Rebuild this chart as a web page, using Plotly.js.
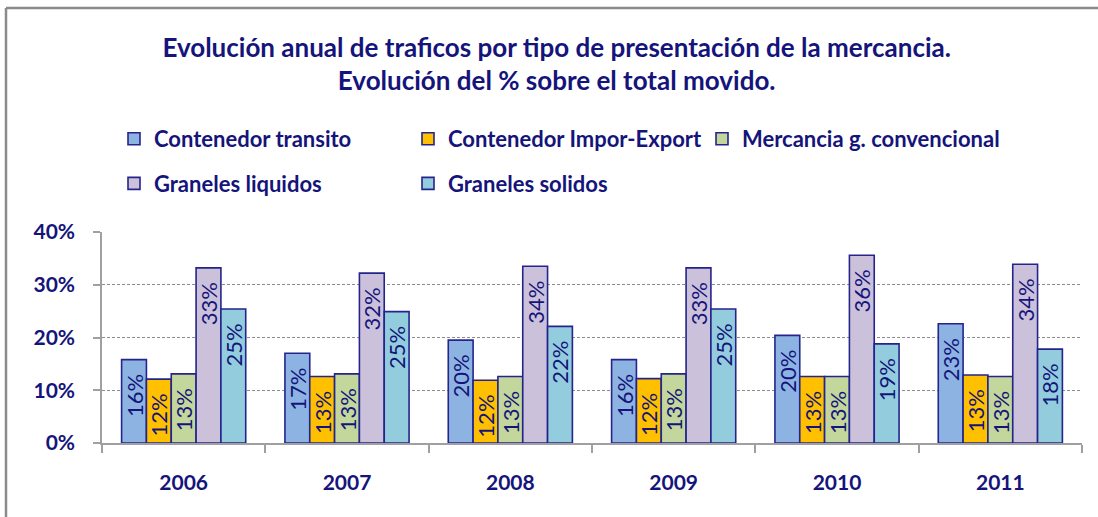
<!DOCTYPE html>
<html>
<head>
<meta charset="utf-8">
<script src="https://cdn.plot.ly/plotly-3.0.1.min.js"></script>
<style>
  html, body { margin: 0; padding: 0; background: #fff; }
  #chart { width: 1098px; height: 517px; }
</style>
</head>
<body>
<div id="chart"></div>
<script>
const years = ['2006', '2007', '2008', '2009', '2010', '2011'];
const seriesNames = ['Contenedor transito', 'Contenedor Impor-Export', 'Mercancia g. convencional', 'Graneles liquidos', 'Graneles solidos'];
const contenedorTransito = [0.158, 0.170, 0.195, 0.158, 0.204, 0.226];
const contenedorImporExport = [0.121, 0.126, 0.119, 0.122, 0.126, 0.129];
const mercanciaConvencional = [0.131, 0.131, 0.126, 0.131, 0.126, 0.126];
const granelesLiquidos = [0.332, 0.322, 0.335, 0.332, 0.356, 0.339];
const granelesSolidos = [0.254, 0.249, 0.221, 0.254, 0.188, 0.178];

const navy = '#14147a';
const fontFam = 'Lato, "Open Sans", sans-serif';
const colors = ['#8db3e2', '#ffc000', '#c3d69b', '#ccc1da', '#93cddd'];
const values = [contenedorTransito, contenedorImporExport, mercanciaConvencional, granelesLiquidos, granelesSolidos];
// legend columns: col1 = transito + liquidos, col2 = impor-export + solidos, col3 = mercancia
const legendIds = ['legend', 'legend2', 'legend3', 'legend', 'legend2'];

const traces = values.map((v, i) => ({
  type: 'bar',
  name: seriesNames[i],
  x: years,
  y: v,
  legend: legendIds[i],
  legendgroup: 'g' + i,
  marker: { color: colors[i], line: { color: '#24248c', width: 1.6 } },
  texttemplate: '%{y:.0%}\u00a0\u00a0',
  textposition: 'inside',
  insidetextanchor: 'end',
  textangle: -90,
  constraintext: 'none',
  textfont: { family: fontFam, size: 22, color: navy },
  hoverinfo: 'x+y+name'
}));

const px2x = p => (p - 102) / 980;
const py2y = p => (443 - p) / 211;

const legendCommon = {
  orientation: 'v',
  xref: 'paper', yref: 'paper',
  xanchor: 'left', yanchor: 'middle',
  tracegroupgap: 13,
  font: { family: fontFam, size: 22, color: navy, weight: 'bold' },
  bgcolor: 'rgba(0,0,0,0)',
  traceorder: 'grouped'
};

const layout = {
  width: 1098,
  height: 517,
  paper_bgcolor: '#ffffff',
  plot_bgcolor: '#ffffff',
  margin: { l: 102, r: 16, t: 232, b: 74 },
  title: {
    text: 'Evolución anual de traficos por tipo de presentación de la mercancia.<br>Evolución del % sobre el total movido.',
    font: { family: fontFam, size: 26, color: navy, weight: 'bold' },
    xref: 'container', yref: 'container',
    x: 0.507, xanchor: 'center',
    y: 1 - 56.5 / 517, yanchor: 'top'
  },
  barmode: 'group',
  bargap: 0.24,
  bargroupgap: 0,
  showlegend: true,
  legend: Object.assign({}, legendCommon, { x: px2x(114), y: py2y(161.5) }),
  legend2: Object.assign({}, legendCommon, { x: px2x(408), y: py2y(161.5) }),
  legend3: Object.assign({}, legendCommon, { x: px2x(702), y: py2y(139) }),
  xaxis: {
    type: 'category',
    showline: true, linecolor: '#a0a0a0', linewidth: 1.5,
    ticks: 'outside', tickson: 'boundaries', ticklen: 8, tickcolor: '#a0a0a0', tickwidth: 1.5,
    ticklabelstandoff: 20,
    tickfont: { family: fontFam, size: 21, color: navy, weight: 'bold' },
    showgrid: false
  },
  yaxis: {
    range: [0, 0.40],
    dtick: 0.1,
    tickformat: '.0%',
    showline: true, linecolor: '#a0a0a0', linewidth: 1.5,
    ticks: 'outside', ticklen: 7, tickcolor: '#a0a0a0', tickwidth: 1.5,
    ticklabelstandoff: 14,
    tickfont: { family: fontFam, size: 21, color: navy, weight: 'bold' },
    showgrid: true, gridcolor: '#8c8c8c', gridwidth: 1, griddash: '3px,2px',
    zeroline: false
  },
  shapes: [
    { type: 'line', xref: 'paper', yref: 'paper',
      x0: px2x(6), x1: px2x(6), y0: -0.5, y1: py2y(8),
      line: { color: '#8a8a8a', width: 2.5 } },
    { type: 'line', xref: 'paper', yref: 'paper',
      x0: px2x(6), x1: 1.1, y0: py2y(8), y1: py2y(8),
      line: { color: '#8a8a8a', width: 2.5 } }
  ]
};

Plotly.newPlot('chart', traces, layout, { displayModeBar: false, responsive: false });
</script>
</body>
</html>
